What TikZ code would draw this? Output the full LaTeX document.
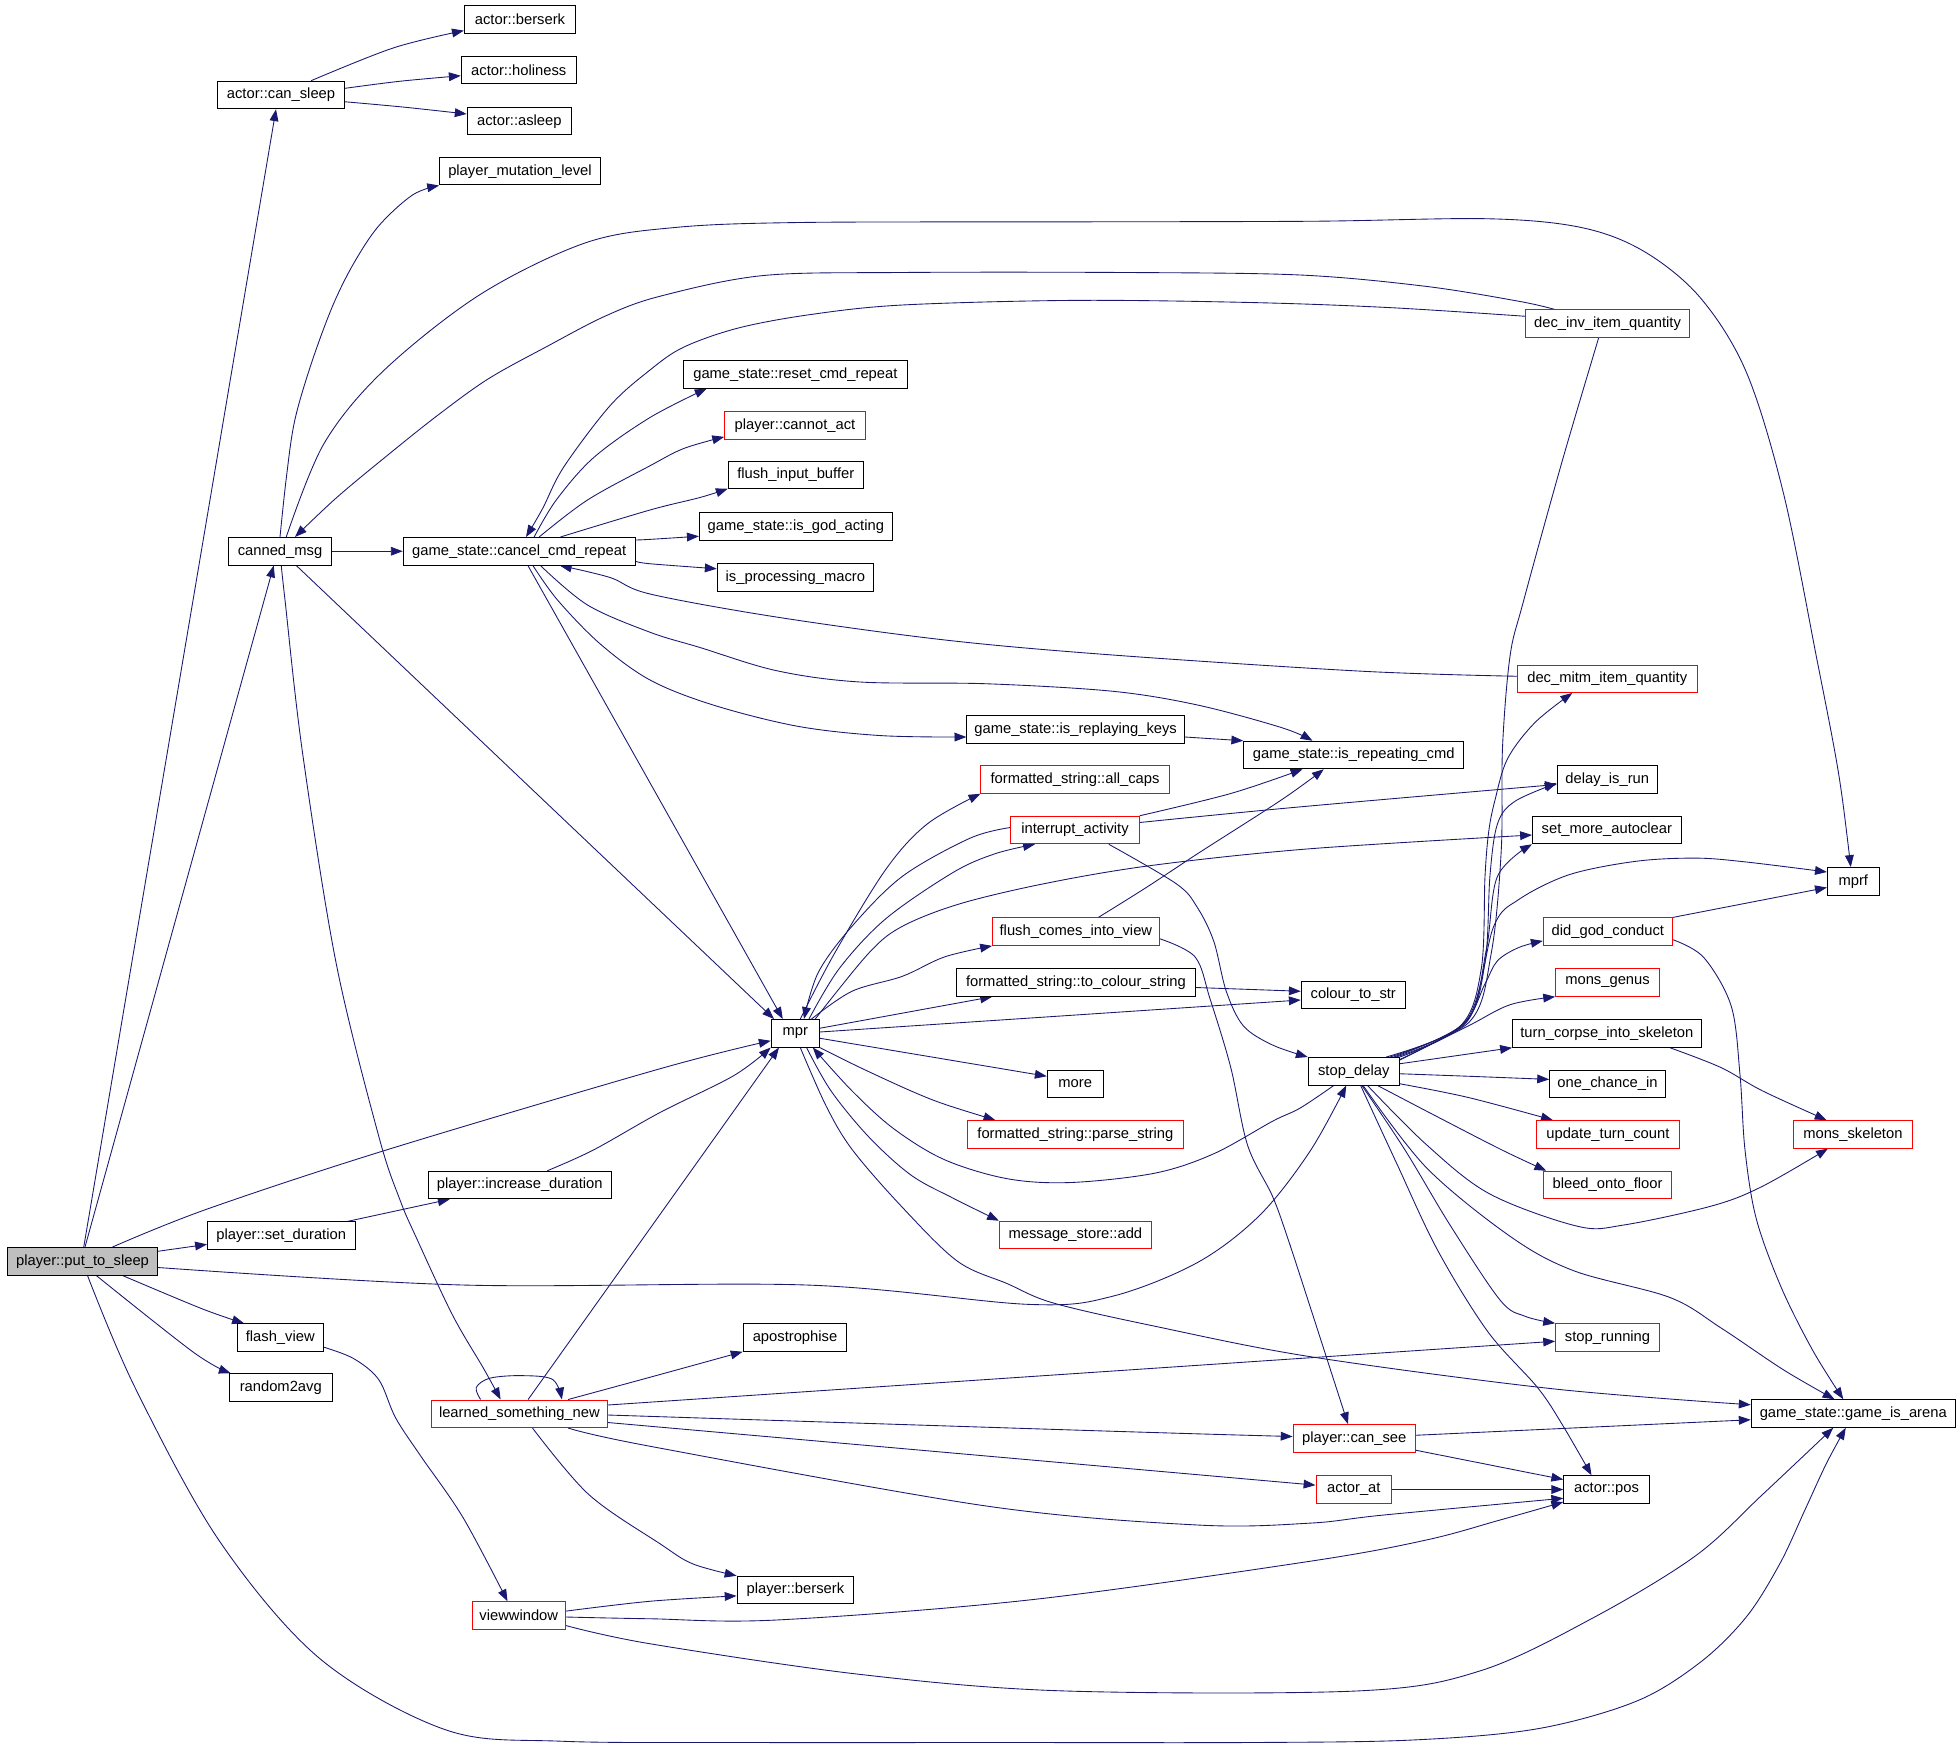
\documentclass[tikz,border=0pt]{standalone}
\usepackage{fontspec}
\setmainfont{Liberation Sans}
\usetikzlibrary{arrows.meta,backgrounds}
\definecolor{edgeblue}{HTML}{191970}
\definecolor{sleepgray}{HTML}{BFBFBF}
\begin{document}
\begin{tikzpicture}[x=1pt,y=-1pt,
  box/.style={draw=black,line width=0.8pt,minimum height=22pt,inner sep=0pt,font=\fontsize{11.8}{13}\selectfont,fill=white},
  rbox/.style={box,draw=red},
  e/.style={draw=edgeblue,line width=0.7pt,-{Triangle[length=9.5pt,width=7pt]}},
  sm/.style={smooth,tension=0.55}]
\useasboundingbox (0,0) rectangle (1568,1401.6);

\node[box,fill=sleepgray,minimum width=120pt] (P) at (66,1009) {player::put\_to\_sleep};
\node[box,minimum width=101pt] (cs) at (224.8,76) {actor::can\_sleep};
\node[box,minimum width=89pt] (ab) at (416,15.5) {actor::berserk};
\node[box,minimum width=92pt] (ah) at (415,56) {actor::holiness};
\node[box,minimum width=83.5pt] (aa) at (415.5,97) {actor::asleep};
\node[box,minimum width=128.6pt] (pml) at (416,137) {player\_mutation\_level};
\node[box,minimum width=83pt] (cm) at (224,441) {canned\_msg};
\node[box,minimum width=185.5pt] (ccr) at (415.3,441) {game\_state::cancel\_cmd\_repeat};
\node[box,minimum width=179.5pt] (rcr) at (636.3,299.5) {game\_state::reset\_cmd\_repeat};
\node[rbox,minimum width=112.5pt] (pca) at (636,340.5) {player::cannot\_act};
\node[box,minimum width=108pt] (fib) at (636.6,380) {flush\_input\_buffer};
\node[box,minimum width=154.5pt] (iga) at (636.7,421) {game\_state::is\_god\_acting};
\node[box,minimum width=125pt] (ipm) at (636.3,462) {is\_processing\_macro};
\node[box,minimum width=174pt] (irk) at (860.5,583.6) {game\_state::is\_replaying\_keys};
\node[rbox,minimum width=150.5pt] (fac) at (860,623.6) {formatted\_string::all\_caps};
\node[rbox,minimum width=102.7pt] (ia) at (860,664) {interrupt\_activity};
\node[box,minimum width=176pt] (irc) at (1083,604) {game\_state::is\_repeating\_cmd};
\node[rbox,minimum width=131.3pt] (diq) at (1286,259) {dec\_inv\_item\_quantity};
\node[rbox,minimum width=144pt] (dmq) at (1285.8,543) {dec\_mitm\_item\_quantity};
\node[box,minimum width=80pt] (dir) at (1285.8,623.6) {delay\_is\_run};
\node[box,minimum width=119pt] (sma) at (1285.5,664) {set\_more\_autoclear};
\node[rbox,minimum width=133.4pt] (fciv) at (860.7,745.3) {flush\_comes\_into\_view};
\node[box,minimum width=191pt] (tcs) at (860.7,786) {formatted\_string::to\_colour\_string};
\node[box,minimum width=38.4pt] (mpr) at (636.2,826.6) {mpr};
\node[box,minimum width=44.8pt] (more) at (860.2,867) {more};
\node[rbox,minimum width=172.7pt] (fps) at (860.3,907.5) {formatted\_string::parse\_string};
\node[rbox,minimum width=121.5pt] (msa) at (860.3,988) {message\_store::add};
\node[box,minimum width=83pt] (apo) at (636,1070) {apostrophise};
\node[box,minimum width=83.2pt] (cts) at (1082.6,796) {colour\_to\_str};
\node[box,minimum width=41.4pt] (mprf) at (1482.6,705) {mprf};
\node[rbox,minimum width=103.4pt] (dgc) at (1286.3,745.3) {did\_god\_conduct};
\node[rbox,minimum width=83pt] (mg) at (1286,786) {mons\_genus};
\node[box,minimum width=151pt] (tcis) at (1285.5,826.8) {turn\_corpse\_into\_skeleton};
\node[box,minimum width=72.8pt] (sd) at (1083,857) {stop\_delay};
\node[box,minimum width=92.6pt] (oci) at (1286,867) {one\_chance\_in};
\node[rbox,minimum width=114pt] (utc) at (1286.3,907.5) {update\_turn\_count};
\node[rbox,minimum width=95.3pt] (ms) at (1482.3,907.5) {mons\_skeleton};
\node[rbox,minimum width=102.7pt] (bof) at (1286,948) {bleed\_onto\_floor};
\node[rbox,minimum width=83pt] (sr) at (1286,1070) {stop\_running};
\node[box,minimum width=146pt] (pid) at (415.8,948) {player::increase\_duration};
\node[box,minimum width=118pt] (psd) at (225,988.5) {player::set\_duration};
\node[box,minimum width=68.7pt] (fv) at (224.2,1070) {flash\_view};
\node[box,minimum width=82pt] (r2) at (224.6,1110) {random2avg};
\node[rbox,minimum width=140.7pt] (lsn) at (415.5,1131) {learned\_something\_new};
\node[rbox,minimum width=74.4pt] (vw) at (415,1292.4) {viewwindow};
\node[box,minimum width=93.3pt] (pb) at (636.3,1272) {player::berserk};
\node[rbox,minimum width=97.8pt] (pcs) at (1083.4,1150.7) {player::can\_see};
\node[rbox,minimum width=60.6pt] (aat) at (1083.1,1191.6) {actor\_at};
\node[box,minimum width=68.4pt] (apos) at (1285.2,1191.6) {actor::pos};
\node[box,minimum width=163.3pt] (gia) at (1482.6,1130.8) {game\_state::game\_is\_arena};

\begin{scope}[on background layer]
% player::put_to_sleep
\draw[e] ([xshift=1pt]P.north) -- ([xshift=-4pt]cs.south);
\draw[e] ([xshift=2pt]P.north) -- ([xshift=-5pt]cm.south);
\draw[e] plot[sm] coordinates {([xshift=24pt]P.north) (165,967.5) (309,920) (528,855) ([yshift=-6pt]mpr.west)};
\draw[e] ([yshift=8pt]P.east) -- ([yshift=-7pt]psd.west);
\draw[e] plot[sm] coordinates {([yshift=-5pt]P.east) (370,1028) (645,1028) (823,1043.5) (890,1037) (958,1010) (1008,972) (1048,921) ([xshift=-6pt]sd.south)};
\draw[e] plot[sm] coordinates {([xshift=32pt]P.south) (161.6,1047) ([xshift=-29pt]fv.north)};
\draw[e] plot[sm] coordinates {([xshift=11pt]P.south) (155,1082) ([xshift=-40pt]r2.north)};
\draw[e] plot[sm] coordinates {([xshift=4pt]P.south) (108,1110) (175,1232) (256,1327) (357,1384) (450,1393) (600,1394) (800,1394) (1000,1394) (1130,1392) (1230,1383) (1309,1361) (1360,1330) (1397,1293.6) (1424,1250.7) (1444,1207.8) (1461,1171) ([xshift=-6pt]gia.south)};
% actor::can_sleep
\draw[e] plot[sm] coordinates {([xshift=24pt]cs.north) (314.8,38.3) ([yshift=-9pt]ab.west)};
\draw[e] plot[sm] coordinates {([yshift=5.3pt]cs.east) (320,65) ([yshift=-4.6pt]ah.west)};
\draw[e] plot[sm] coordinates {([yshift=-5.4pt]cs.east) (323,85.7) ([yshift=5.8pt]aa.west)};
% canned_msg
\draw[e] plot[sm] coordinates {(cm.north) (229,382.8) (235.7,336.8) (249,291) (266,245) (282.8,211) (303,180.7) (330,156) (pml.south west)};
\draw[e] (cm.east) -- (ccr.west);
\draw[e] plot[sm] coordinates {([xshift=5pt]cm.north) (259,355.2) (306.4,297) (383.8,235.8) (468,194.4) (540,182) (640,178) (850,177.5) (1050,177) (1190,175) (1265,182) (1315,201) (1360,237.9) (1397,297.6) (1427,395.6) (1454,530) (1467.6,600) (1474,640) ([xshift=-2pt]mprf.north)};
\draw[e] ([xshift=13pt]cm.south) -- ([xshift=-17pt]mpr.north);
\draw[e] plot[sm] coordinates {([xshift=1pt]cm.south) (228,480) (242,602) (269,771) (303,909) (320,960) (333,990) (362,1052) (387,1095) ([xshift=-15pt]lsn.north)};
% dec_inv / dec_mitm
\draw[e] plot[sm] coordinates {([xshift=-42pt]diq.north) (1215,241) (1140,229) (1040,220) (900,218) (720,218) (610,220.5) (528,237) (484.8,252.6) (437.7,277.1) (390.6,303.1) (350.2,332.2) (309.8,364.4) (269.4,398) ([xshift=12pt]cm.north)};
\draw[e] plot[sm] coordinates {([yshift=6pt]diq.west) (1110,246) (1000,242) (860,240.3) (722,244) (648,251.7) (590.7,262.4) (547,277.7) (520,296) (488,324.6) (451,373.6) (434,407) ([xshift=5.5pt]ccr.north)};
\draw[e] plot[sm] coordinates {([yshift=2pt]dmq.west) (1090,537) (890,524) (756,512) (621,493.6) (520,475.2) (488,462) ([xshift=32.5pt]ccr.south)};
% cancel_cmd_repeat
\draw[e] plot[sm] coordinates {([xshift=12pt]ccr.north) (445,400) (475,366) (520,334) ([xshift=-71pt]rcr.south)};
\draw[e] plot[sm] coordinates {([xshift=16pt]ccr.north) (470,400) (520,372.6) (547,358.8) ([yshift=-9pt]pca.west)};
\draw[e] plot[sm] coordinates {([xshift=33pt]ccr.north) (520,408) (560,398) ([yshift=-11pt]fib.west)};
\draw[e] plot[sm] coordinates {([yshift=9pt]ccr.east) (520,431.5) ([yshift=-8pt]iga.west)};
\draw[e] plot[sm] coordinates {([yshift=-8pt]ccr.east) (520,451) ([yshift=7pt]ipm.west)};
\draw[e] plot[sm] coordinates {([xshift=17pt]ccr.south) (470,484) (520,505.8) (560,518) (621,536.5) (688,545.6) (789,547) (890,553) (958,564) (1025,582) ([xshift=-33pt]irc.north)};
\draw[e] plot[sm] coordinates {([xshift=11pt]ccr.south) (446,480) (480,515) (520,544) (570.5,564) (638,581) (705,588.5) ([yshift=-6pt]irk.west)};
\draw[e] ([xshift=7pt]ccr.south) -- ([xshift=-10pt]mpr.north);
% mpr
\draw[e] plot[sm] coordinates {([xshift=4pt]mpr.north) (668,762) (709,695) (742,659) (fac.south west)};
\draw[e] plot[sm] coordinates {([xshift=11pt]mpr.north) (671.5,774.7) (708.6,735) (762.4,698) (796,683) ([xshift=-32pt]ia.south)};
\draw[e] plot[sm] coordinates {([yshift=2pt]ia.west) (775.9,670.6) (722,701) (681.6,741) (654.7,777.8) ([xshift=7pt]mpr.north)};
\draw[e] plot[sm] coordinates {([xshift=13pt]mpr.north) (681.6,793) (722,781) (755.7,765.5) (fciv.south west)};
\draw[e] plot[sm] coordinates {([xshift=16pt]mpr.north) (695,762.5) (722,741) (769,722.7) (840,706) (924,692) (1048,679) ([yshift=-4pt]sma.west)};
\draw[e] ([yshift=4pt]mpr.east) -- ([xshift=-67pt]tcs.south);
\draw[e] plot[sm] coordinates {([yshift=1pt]mpr.east) (823,814.5) ([yshift=-4pt]cts.west)};
\draw[e] ([yshift=-4pt]tcs.east) -- ([yshift=3pt]cts.west);
\draw[e] ([yshift=-4pt]mpr.east) -- ([yshift=6pt]more.west);
\draw[e] plot[sm] coordinates {(mpr.south east) (688,854) (728.7,872.7) (755.7,883.4) ([xshift=-64pt]fps.north)};
\draw[e] plot[sm] coordinates {([xshift=9pt]mpr.south) (664.8,872.7) (695,909.5) (728.7,940) (762.4,958.5) (msa.north west)};
\draw[e] plot[sm] coordinates {([xshift=4pt]mpr.south) (661,885) (682,920) (722,966) (766,1009) (806,1027) (843,1042.5) (924,1061) (1048,1085.3) (1242,1111) ([yshift=7pt]gia.west)};
\draw[e] plot[sm] coordinates {([xshift=-16pt]sd.south) (1040,886.5) (1018,897) (971,923) (924,938.5) (856.7,946) (806,943) (755.7,927.8) (715,903) (681.6,872.7) ([xshift=14pt]mpr.south)};
\draw[e] plot[sm] coordinates {([xshift=22pt]pid.north) (474.7,920) (528,890) (587,860.5) (mpr.south west)};
\draw[e] ([xshift=7pt]lsn.north) -- ([xshift=-13pt]mpr.south);
% interrupt_activity / flush_comes_into_view
\draw[e] plot[sm] coordinates {(ia.north east) (984.6,634.8) ([xshift=-41pt]irc.south)};
\draw[e] plot[sm] coordinates {([yshift=6pt]ia.east) (1040,645.5) ([yshift=-4pt]dir.west)};
\draw[e] plot[sm] coordinates {([xshift=27pt]ia.south) (941,707) (957.7,725.7) (971,753) (981,793) (994.7,820.7) (1018,836) (sd.north west)};
\draw[e] plot[sm] coordinates {([xshift=18pt]fciv.north) (917,710) (958,683) (1025,640) ([xshift=-24pt]irc.south)};
\draw[e] plot[sm] coordinates {([yshift=-5.7pt]fciv.east) (956,765.5) (968,799) (984.6,854) (998,916) (1018,957) (1030,990) (1047,1042) (1067,1104) ([xshift=-5pt]pcs.north)};
\draw[e] ([yshift=-6pt]irk.east) -- (irc.north west);
% stop_delay
\draw[e] plot[sm] coordinates {([xshift=26pt]sd.north) (1175,818) (1193,762.5) (1201,680) (1202,598) (1208,525) (1218.5,482) (1249,371.5) (1276,280) ([xshift=-7pt]diq.south)};
\draw[e] plot[sm] coordinates {([xshift=29pt]sd.north) (1168,821) (1185,775) (1188,701) (1191,665) (1196,640) (1206,607) (1228,578) ([xshift=-28pt]dmq.south)};
\draw[e] plot[sm] coordinates {([xshift=32pt]sd.north) (1172,818) (1188,770) (1192,700) (1198,659) (1212,641) ([yshift=-3pt]dir.west)};
\draw[e] plot[sm] coordinates {([xshift=34pt]sd.north) (1173,818) (1189,760) (1198,701) (sma.south west)};
\draw[e] plot[sm] coordinates {(sd.north east) (1174,815) (1195,741) (1215,719.6) (1255.5,699.7) (1309,689) (1357,686.5) (1397,689.6) ([yshift=7.4pt]mprf.west)};
\draw[e] plot[sm] coordinates {([yshift=-2pt]sd.north east) (1170,820) (1188,787) (1198,768.6) (1215,758) ([yshift=-7.4pt]dgc.west)};
\draw[e] plot[sm] coordinates {([yshift=9pt]sd.east) (1174.7,820.7) (1208,803.8) (mg.south west)};
\draw[e] ([yshift=6pt]sd.east) -- (tcis.south west);
\draw[e] plot[sm] coordinates {([yshift=-2pt]sd.east) (1174.7,861) ([yshift=3.5pt]oci.west)};
\draw[e] plot[sm] coordinates {([yshift=-10pt]sd.east) (1174.7,878) ([xshift=-44pt]utc.north)};
\draw[e] plot[sm] coordinates {([xshift=19pt]sd.south) (1151,894) (1201.6,920) ([xshift=-49pt]bof.north)};
\draw[e] plot[sm] coordinates {([xshift=11pt]sd.south) (1141,915.6) (1191.5,955) (1262,981) (1299,980) (1370,964.6) (1410,949) ([xshift=-20pt]ms.south)};
\draw[e] plot[sm] coordinates {([xshift=7.5pt]sd.south) (1141,934) (1208,989) (1259,1016.6) (1336,1038) (1377,1062.5) (1427,1096) ([xshift=-15pt]gia.north)};
\draw[e] plot[sm] coordinates {([xshift=6.5pt]sd.south) (1124,920) (1160,980) (1200,1040) (1220,1053) (sr.north west)};
\draw[e] plot[sm] coordinates {([xshift=5.5pt]sd.south) (1117,930) (1150,1000) (1190,1065) (1230,1110) (1250,1140) ([xshift=-12pt]apos.north)};
% did_god_conduct / turn_corpse_into_skeleton
\draw[e] (dgc.north east) -- ([yshift=-5pt]mprf.west);
\draw[e] plot[sm] coordinates {([yshift=-6.5pt]dgc.east) (1363,766) (1385,805) (1392,860) (1396,920) (1405,975) (1425,1030) (1450,1080) ([xshift=-8pt]gia.north)};
\draw[e] plot[sm] coordinates {([xshift=50.5pt]tcis.south) (1376.7,854) (1410,872.7) ([xshift=-21pt]ms.north)};
% learned_something_new
\draw[e] plot[sm] coordinates {([xshift=-31pt]lsn.north) (381,1110) (392,1102.5) (417,1100.5) (442,1103.5) ([xshift=34pt]lsn.north)};
\draw[e] plot[sm] coordinates {([xshift=39pt]lsn.north) (524,1100.7) (apo.south west)};
\draw[e] ([yshift=7pt]lsn.east) -- ([yshift=-3pt]sr.west);
\draw[e] plot[sm] coordinates {([yshift=-1pt]lsn.east) (890,1145) ([yshift=1.5pt]pcs.west)};
\draw[e] ([yshift=-7pt]lsn.east) -- ([yshift=3.5pt]aat.west);
\draw[e] plot[sm] coordinates {([xshift=39pt]lsn.south) (520,1157) (789,1204.8) (958,1220) (1048,1218.5) (1107,1212) ([yshift=-7pt]apos.west)};
\draw[e] plot[sm] coordinates {([xshift=10.5pt]lsn.south) (471,1195.6) (528,1235) (554,1251) (pb.north west)};
% viewwindow
\draw[e] plot[sm] coordinates {([yshift=3.5pt]vw.east) (520,1281) ([yshift=-4.7pt]pb.west)};
\draw[e] plot[sm] coordinates {([yshift=-1.2pt]vw.east) (520,1295) (621,1296) (823,1280) (1048,1249) (1141,1232) (1200,1216) ([yshift=-10pt]apos.west)};
\draw[e] plot[sm] coordinates {([yshift=-8pt]vw.east) (520,1315) (688,1339.5) (850,1352.7) (1087,1352.7) (1185,1336.4) (1275.7,1293.6) (1356.5,1244.6) (1410,1195.6) ([xshift=-16pt]gia.south)};
% player::can_see / actor_at
\draw[e] ([yshift=2.5pt]pcs.east) -- ([yshift=-5pt]gia.west);
\draw[e] ([yshift=-9.5pt]pcs.east) -- ([yshift=8pt]apos.west);
\draw[e] (aat.east) -- (apos.west);
% flash_view / set_duration
\draw[e] plot[sm] coordinates {([yshift=-7.7pt]fv.east) (282.8,1086.8) (303,1103.7) (316.5,1134.3) (336.7,1165) (370.4,1214) ([xshift=-9pt]vw.north)};
\draw[e] ([xshift=53pt]psd.north) -- ([xshift=-56pt]pid.south);
\end{scope}
\end{tikzpicture}
\end{document}
